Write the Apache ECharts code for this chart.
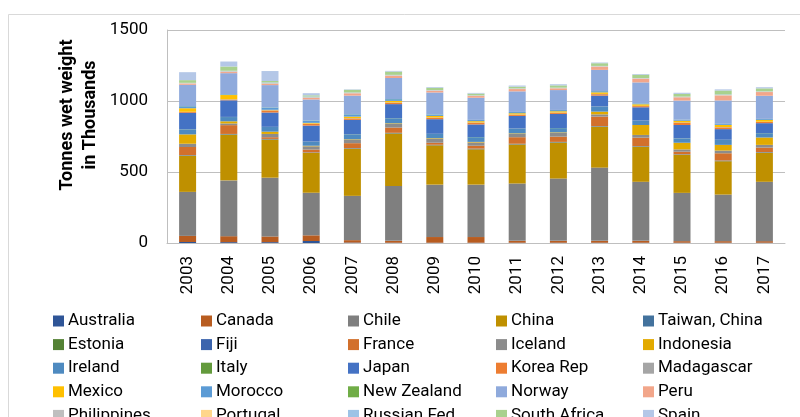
<!DOCTYPE html>
<html>
<head>
<meta charset="utf-8">
<script src="https://cdn.jsdelivr.net/npm/echarts@6/dist/echarts.min.js"></script>
<style>
  html, body { margin: 0; padding: 0; background: #fff; }
  #chart { width: 800px; height: 417px; }
</style>
</head>
<body>
<div id="chart"></div>
<script>
// Wild seaweed harvest by country, thousand tonnes wet weight
const years = ['2003','2004','2005','2006','2007','2008','2009','2010','2011','2012','2013','2014','2015','2016','2017'];

const australia   = [7, 6, 6, 14, 3, 2, 2, 2, 2, 2, 2, 2, 2, 2, 2];
const canada      = [43, 42, 40, 40, 17, 13, 40, 40, 13, 13, 13, 13, 11, 11, 11];
const chile       = [310, 393, 414, 300, 312, 387, 369, 369, 404, 439, 516, 416, 340, 328, 418];
const china       = [254, 322, 268, 280, 331, 369, 277, 249, 275, 253, 287, 246, 268, 235, 204];
const taiwan      = [3, 3, 3, 2, 3, 3, 2, 3, 3, 3, 3, 3, 2, 3, 3];
const estonia     = [1, 1, 1, 1, 1, 1, 1, 1, 1, 1, 1, 1, 1, 1, 1];
const fiji        = [1, 1, 1, 1, 1, 1, 1, 1, 1, 1, 1, 1, 1, 1, 1];
const france      = [57, 62, 12, 20, 35, 37, 14, 20, 46, 37, 67, 60, 18, 51, 32];
const iceland     = [23, 12, 23, 23, 23, 26, 28, 23, 23, 26, 16, 19, 16, 19, 19];
const indonesia   = [66, 15, 16, 4, 4, 4, 4, 4, 4, 4, 19, 70, 47, 40, 52];
const ireland     = [35, 30, 33, 28, 35, 35, 30, 33, 33, 30, 35, 30, 30, 35, 30];
const italy       = [1, 1, 1, 1, 1, 1, 1, 1, 1, 1, 1, 1, 1, 1, 1];
const japan       = [115, 117, 101, 113, 101, 99, 103, 89, 89, 99, 77, 94, 94, 75, 70];
const korea       = [6, 5, 14, 12, 10, 10, 10, 12, 8, 8, 10, 8, 16, 12, 8];
const madagascar  = [2, 2, 2, 2, 2, 2, 2, 2, 2, 2, 2, 2, 2, 2, 2];
const mexico      = [25, 30, 3, 5, 11, 11, 11, 9, 9, 9, 11, 11, 12, 16, 13];
const morocco     = [14, 5, 16, 16, 16, 12, 10, 8, 8, 8, 8, 6, 6, 6, 6];
const newZealand  = [1, 1, 1, 1, 1, 1, 1, 1, 1, 1, 1, 1, 1, 1, 1];
const norway      = [150, 148, 157, 148, 131, 148, 154, 156, 145, 140, 149, 147, 135, 165, 163];
const peru        = [9, 8, 8, 10, 16, 16, 12, 12, 16, 12, 23, 26, 23, 35, 26];
const philippines = [2, 5, 5, 5, 2, 2, 2, 2, 2, 2, 2, 2, 2, 2, 2];
const portugal    = [1, 1, 1, 1, 1, 1, 1, 1, 1, 1, 1, 1, 1, 1, 1];
const russianFed  = [2, 3, 5, 5, 3, 3, 2, 2, 2, 2, 2, 2, 2, 4, 2];
const southAfrica = [19, 30, 10, 8, 19, 23, 16, 12, 12, 16, 19, 23, 19, 28, 21];
const spain       = [56, 35, 70, 15, 3, 5, 5, 5, 8, 8, 5, 5, 8, 8, 8];

const yTicks = [0, 500, 1000, 1500];

const countries = [
  ['Australia', australia, '#2F5597'],
  ['Canada', canada, '#B85C20'],
  ['Chile', chile, '#7F7F7F'],
  ['China', china, '#BF9000'],
  ['Taiwan, China', taiwan, '#43729D'],
  ['Estonia', estonia, '#548235'],
  ['Fiji', fiji, '#3B64AD'],
  ['France', france, '#D2702C'],
  ['Iceland', iceland, '#8C8C8C'],
  ['Indonesia', indonesia, '#E2AA00'],
  ['Ireland', ireland, '#4E8AC0'],
  ['Italy', italy, '#639A3C'],
  ['Japan', japan, '#4472C4'],
  ['Korea Rep', korea, '#ED7D31'],
  ['Madagascar', madagascar, '#A5A5A5'],
  ['Mexico', mexico, '#FFC000'],
  ['Morocco', morocco, '#5B9BD5'],
  ['New Zealand', newZealand, '#70AD47'],
  ['Norway', norway, '#8FAADC'],
  ['Peru', peru, '#F2A68A'],
  ['Philippines', philippines, '#BFBFBF'],
  ['Portugal', portugal, '#FFD68A'],
  ['Russian Fed', russianFed, '#9DC3E6'],
  ['South Africa', southAfrica, '#A9D18E'],
  ['Spain', spain, '#B4C7E7']
];

const FONT = 'Roboto';
const series = countries.map(([name, values, color]) => ({
  name: name,
  type: 'bar',
  stack: 'total',
  data: values,
  barWidth: 17,
  itemStyle: { color: color },
  emphasis: { disabled: true }
}));

// Legend laid out as five columns, one legend component per column
const legends = [];
const colX = [53, 201, 348, 496, 643];
for (let c = 0; c < 5; c++) {
  const names = countries.filter((_, i) => i % 5 === c).map(d => d[0]);
  legends.push({
    data: names,
    orient: 'vertical',
    left: colX[c],
    top: 312.5,
    height: 200,
    padding: 0,
    itemWidth: 11,
    itemHeight: 11,
    itemGap: 6.6,
    icon: 'rect',
    selectedMode: false,
    textStyle: { fontFamily: FONT, fontSize: 17, color: '#000', lineHeight: 16, padding: [0, 0, 0, -1] }
  });
}

const chart = echarts.init(document.getElementById('chart'), null, { renderer: 'canvas' });
chart.setOption({
  animation: false,
  backgroundColor: '#fff',
  grid: { left: 167, right: 15, top: 30, bottom: 174, containLabel: false },
  legend: legends,
  xAxis: {
    type: 'category',
    data: years,
    axisLine: { lineStyle: { color: '#BFBFBF', width: 1 } },
    axisTick: { show: false },
    axisLabel: { rotate: 90, margin: 13, fontFamily: FONT, fontSize: 17, color: '#000' }
  },
  yAxis: {
    type: 'value',
    min: yTicks[0],
    max: yTicks[yTicks.length - 1],
    interval: 500,
    axisLine: { show: true, lineStyle: { color: '#BFBFBF', width: 1 } },
    axisTick: { show: false },
    splitLine: { lineStyle: { color: '#BFBFBF', width: 1 } },
    axisLabel: { margin: 19, fontFamily: FONT, fontSize: 17, color: '#000', formatter: v => String(v) }
  },
  graphic: [
    {
      type: 'rect',
      shape: { x: 8.5, y: 14.5, width: 820, height: 500 },
      style: { fill: 'none', stroke: '#D9D9D9', lineWidth: 1 },
      silent: true,
      z: -1
    },
    {
      type: 'text',
      x: 79,
      y: 115,
      rotation: Math.PI / 2,
      style: {
        text: 'Tonnes wet weight\nin Thousands',
        fontFamily: FONT,
        fontWeight: 'bold',
        fontSize: 18,
        lineHeight: 23,
        fill: '#000',
        align: 'center',
        verticalAlign: 'middle'
      }
    }
  ],
  series: series
});
</script>
</body>
</html>
